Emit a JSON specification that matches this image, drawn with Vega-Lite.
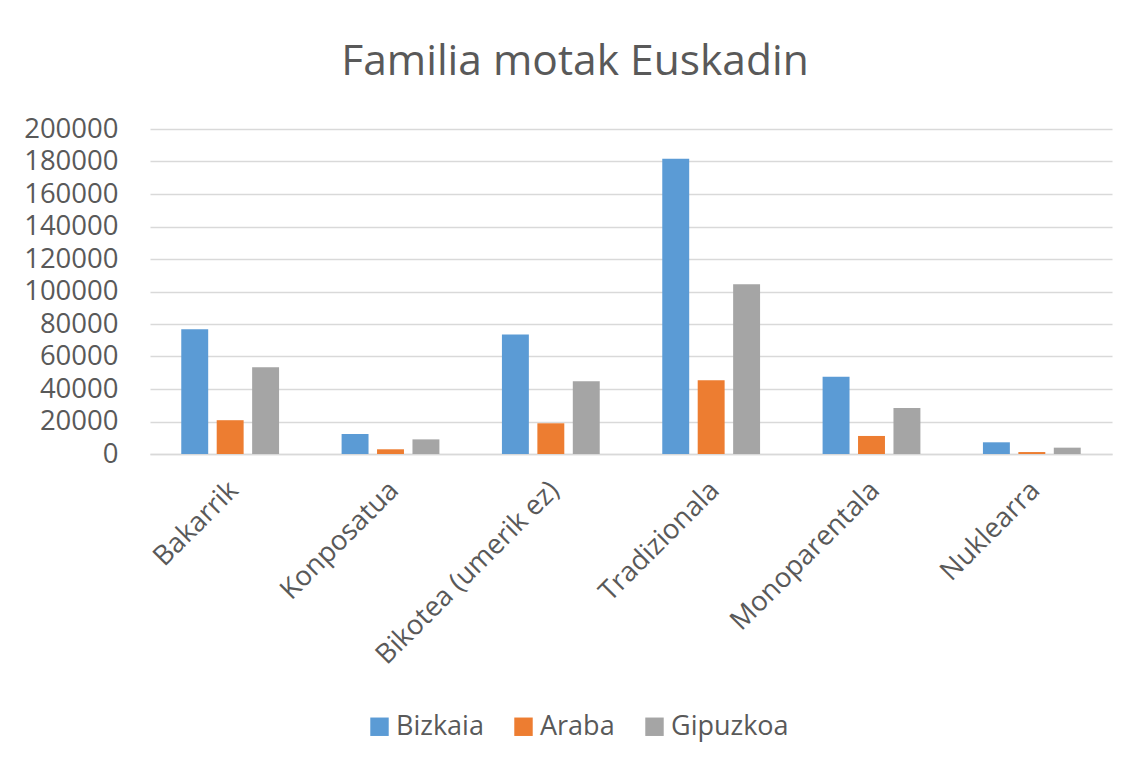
{
  "$schema": "https://vega.github.io/schema/vega-lite/v6.json",
  "autosize": "none",
  "width": 962,
  "height": 325,
  "padding": {"left": 150, "top": 129, "right": 16, "bottom": 306},
  "background": "white",
  "title": {
    "text": "Familia motak Euskadin",
    "font": "Open Sans",
    "fontSize": 42.5,
    "fontWeight": "normal",
    "color": "#595959",
    "anchor": "middle",
    "dx": -56,
    "offset": 32
  },
  "data": {
    "values": [
      {"mota": "Bakarrik", "lurraldea": "Bizkaia", "balioa": 76800},
      {"mota": "Bakarrik", "lurraldea": "Araba", "balioa": 20800},
      {"mota": "Bakarrik", "lurraldea": "Gipuzkoa", "balioa": 53400},
      {"mota": "Konposatua", "lurraldea": "Bizkaia", "balioa": 12300},
      {"mota": "Konposatua", "lurraldea": "Araba", "balioa": 2900},
      {"mota": "Konposatua", "lurraldea": "Gipuzkoa", "balioa": 9000},
      {"mota": "Bikotea (umerik ez)", "lurraldea": "Bizkaia", "balioa": 73500},
      {"mota": "Bikotea (umerik ez)", "lurraldea": "Araba", "balioa": 18900},
      {"mota": "Bikotea (umerik ez)", "lurraldea": "Gipuzkoa", "balioa": 44800},
      {"mota": "Tradizionala", "lurraldea": "Bizkaia", "balioa": 181700},
      {"mota": "Tradizionala", "lurraldea": "Araba", "balioa": 45400},
      {"mota": "Tradizionala", "lurraldea": "Gipuzkoa", "balioa": 104500},
      {"mota": "Monoparentala", "lurraldea": "Bizkaia", "balioa": 47600},
      {"mota": "Monoparentala", "lurraldea": "Araba", "balioa": 11100},
      {"mota": "Monoparentala", "lurraldea": "Gipuzkoa", "balioa": 28300},
      {"mota": "Nuklearra", "lurraldea": "Bizkaia", "balioa": 7200},
      {"mota": "Nuklearra", "lurraldea": "Araba", "balioa": 1200},
      {"mota": "Nuklearra", "lurraldea": "Gipuzkoa", "balioa": 3900}
    ]
  },
  "mark": {"type": "bar"},
  "encoding": {
    "x": {
      "field": "mota",
      "type": "nominal",
      "sort": null,
      "title": null,
      "scale": {"paddingInner": 0.39, "paddingOuter": 0.195},
      "axis": {
        "labelAngle": -45,
        "labelFont": "Open Sans",
        "labelFontSize": 27.5,
        "labelColor": "#595959",
        "labelPadding": 22,
        "labelOffset": -6,
        "labelLimit": 400,
        "ticks": false,
        "domainColor": "#D9D9D9",
        "domainWidth": 1.5,
        "grid": false
      }
    },
    "xOffset": {
      "field": "lurraldea",
      "type": "nominal",
      "sort": ["Bizkaia", "Araba", "Gipuzkoa"],
      "scale": {"paddingInner": 0.24, "paddingOuter": 0}
    },
    "y": {
      "field": "balioa",
      "type": "quantitative",
      "title": null,
      "scale": {"domain": [0, 200000]},
      "axis": {
        "values": [0, 20000, 40000, 60000, 80000, 100000, 120000, 140000, 160000, 180000, 200000],
        "format": "d",
        "labelFont": "Open Sans",
        "labelFontSize": 27.5,
        "labelColor": "#595959",
        "labelPadding": 32,
        "ticks": false,
        "domain": false,
        "gridColor": "#D9D9D9",
        "gridWidth": 1.5
      }
    },
    "color": {
      "field": "lurraldea",
      "type": "nominal",
      "sort": ["Bizkaia", "Araba", "Gipuzkoa"],
      "scale": {"domain": ["Bizkaia", "Araba", "Gipuzkoa"], "range": ["#5B9BD5", "#ED7D31", "#A5A5A5"]},
      "legend": {
        "title": null,
        "orient": "none",
        "legendX": 216,
        "legendY": 584,
        "direction": "horizontal",
        "symbolType": "square",
        "symbolSize": 340,
        "symbolStrokeWidth": 0,
        "symbolOpacity": 1,
        "labelFont": "Open Sans",
        "labelFontSize": 27,
        "labelColor": "#595959",
        "labelOffset": 3,
        "columnPadding": 26
      }
    }
  },
  "config": {
    "view": {"stroke": null}
  }
}
